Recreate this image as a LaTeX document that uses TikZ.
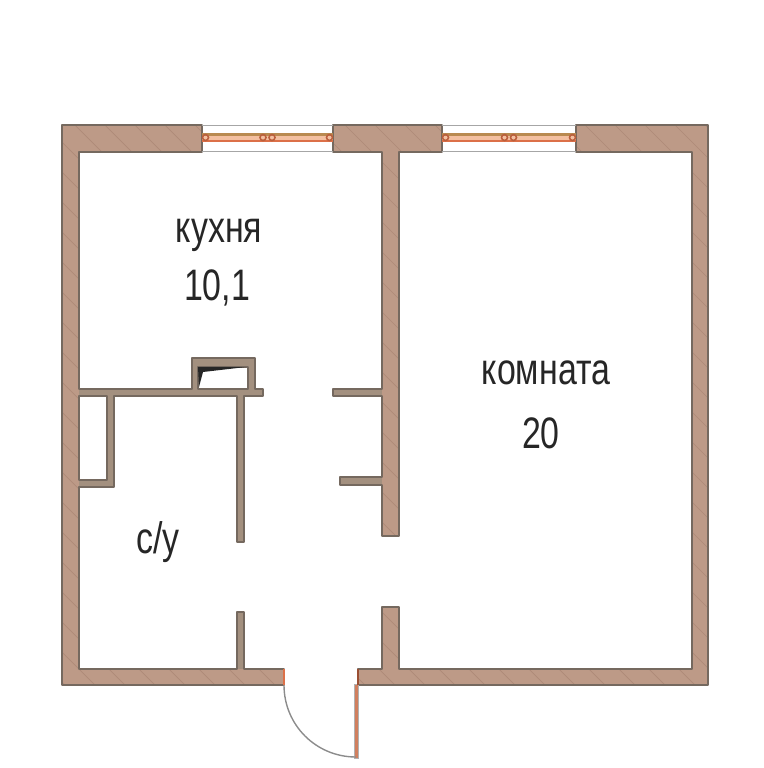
\documentclass[tikz,border=0pt]{standalone}
\usepackage{fontspec}
\setmainfont{Liberation Sans}
\definecolor{wallfill}{HTML}{BD9A87}
\definecolor{wallthin}{HTML}{A3907F}
\definecolor{wallline}{HTML}{75695F}
\definecolor{hatchline}{HTML}{AE8A78}
\definecolor{sashline}{HTML}{DC7048}
\definecolor{sashfill}{HTML}{F3BFA0}
\definecolor{sashdark}{HTML}{B98A50}
\newcommand{\wallleft}{(202,125) -- (62,125) -- (62,685) -- (284,685) -- (284,669) -- (244,669) -- (244,612) -- (237,612) -- (237,669) -- (79,669) -- (79,487) -- (114,487) -- (114,396) -- (237,396) -- (237,542) -- (244,542) -- (244,396) -- (263,396) -- (263,389) -- (255,389) -- (255,358) -- (192,358) -- (192,389) -- (79,389) -- (79,152) -- (202,152) -- cycle
  (79,396) -- (107,396) -- (107,480) -- (79,480) -- cycle
  (198,367) -- (248,367) -- (248,389) -- (198,389) -- cycle}
\newcommand{\wallmid}{(333,125) -- (442,125) -- (442,152) -- (399,152) -- (399,536) -- (382,536) -- (382,485) -- (340,485) -- (340,477) -- (382,477) -- (382,396) -- (333,396) -- (333,389) -- (382,389) -- (382,152) -- (333,152) -- cycle}
\newcommand{\wallright}{(576,125) -- (708,125) -- (708,685) -- (358,685) -- (358,669) -- (382,669) -- (382,607) -- (399,607) -- (399,669) -- (692,669) -- (692,152) -- (576,152) -- cycle}

\begin{document}
\begin{tikzpicture}[
    x=0.02cm, y=-0.02cm,
    wall/.style={fill=wallfill, even odd rule},
    wallborder/.style={draw=wallline, line width=0.95pt, line join=round},
    hatch/.style={draw=hatchline, line width=0.4pt},
    frameline/.style={draw=black!35, line width=0.9pt},
    hinge/.style={draw=sashline!85!black, line width=0.9pt, fill=none},
    roomlabel/.style={font=\fontsize{19.3}{24}\selectfont, text=black!85, inner sep=0pt, anchor=base, transform shape, yscale=1.3}
]
\useasboundingbox (0,0) rectangle (764,768);

% Walls
\fill[wall] \wallleft;
\fill[wall] \wallmid;
\fill[wall] \wallright;

% Wall hatching
\begin{scope}
\clip \wallleft \wallmid \wallright;
\foreach \d in {-700,-670,...,700} {
  \draw[hatch] (\d,100) -- (\d+620,720);
}
\end{scope}

% Thin partitions are greyer
\foreach \xa/\ya/\xb/\yb in {79/389/263/396, 107/396/114/487, 79/480/114/487, 237/396/244/542, 237/612/244/669, 333/389/382/396, 340/477/382/485, 192/358/198/389, 248/358/255/389, 192/358/255/367} {
  \fill[wallthin] (\xa,\ya) rectangle (\xb,\yb);
}

% Outline
\draw[wallborder] \wallleft;
\draw[wallborder] \wallmid;
\draw[wallborder] \wallright;

% Vent duct
\fill[black!85] (198,367) -- (246,367) -- (203,372) -- (199,387) -- cycle;

% Windows
\foreach \xa/\xb in {202/333, 442/576} {
  \draw[frameline] (\xa,125.5) -- (\xb,125.5);
  \draw[frameline] (\xa,151.5) -- (\xb,151.5);
  \fill[sashfill] (\xa,133.5) rectangle (\xb,141);
  \draw[sashdark, line width=1.3pt] (\xa,134.5) -- (\xb,134.5);
  \draw[sashline, line width=0.8pt] (\xa,141) -- (\xb,141);
  \pgfmathsetmacro{\xm}{(\xa+\xb)/2}
  \foreach \xc in {\xa+3.5, \xm-4.5, \xm+4.5, \xb-3.5} {
    \draw[hinge] (\xc,137.5) circle (3);
  }
}

% Door
\fill[sashline!65!wallfill] (354,684) rectangle (358,758);
\draw[black!30, line width=0.4pt] (354,684) rectangle (358,758);
\draw[black!45, line width=0.8pt] (284,685) .. controls (284,725) and (316,757) .. (356,757);
\draw[sashline, line width=0.8pt] (284,669) -- (284,685);
\draw[sashline!70!black, line width=1pt] (358,669) -- (358,685);

% Room labels
\node[roomlabel] (kitchen) at (219,242) {кухня};
\node[roomlabel] (kitchenarea) at (217,300) {10,1};
\node[roomlabel] (room) at (546,384) {комната};
\node[roomlabel] (roomarea) at (541,448) {20};
\node[roomlabel] (bath) at (158,553) {с/у};

\end{tikzpicture}
\end{document}
